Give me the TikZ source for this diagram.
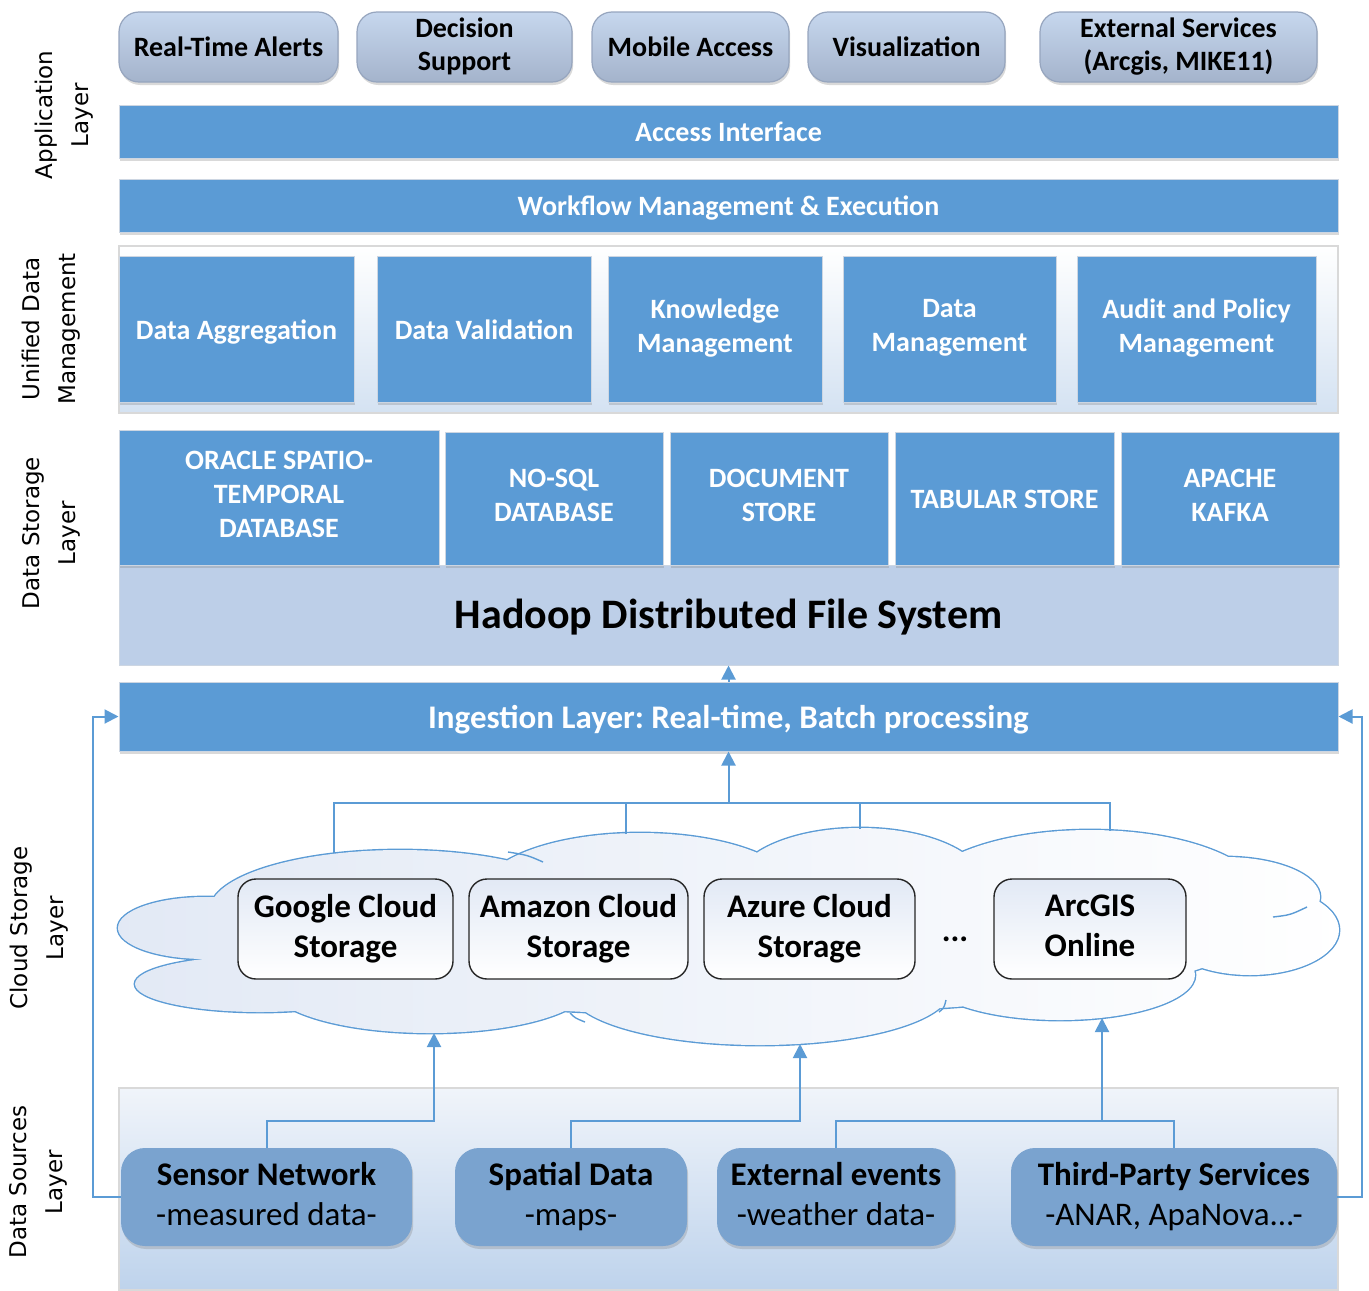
\documentclass[tikz,border=0pt]{standalone}
\usepackage{fontspec}
\setmainfont{Carlito}
\newfontfamily\sidefont{DejaVu Sans}
\usetikzlibrary{arrows.meta,shadows,calc}
\frenchspacing
\definecolor{bluebox}{RGB}{91,155,213}
\definecolor{bluebord}{RGB}{205,214,226}
\definecolor{hdfscol}{RGB}{189,207,232}
\definecolor{appA}{RGB}{198,215,238}
\definecolor{appB}{RGB}{164,179,203}
\definecolor{appbord}{RGB}{150,165,190}
\definecolor{srcfill}{RGB}{122,163,207}
\definecolor{conncol}{RGB}{91,155,213}
\definecolor{contTop}{RGB}{240,244,250}
\definecolor{contBot}{RGB}{190,211,236}
\definecolor{cloudL}{RGB}{226,233,245}
\definecolor{udmBot}{RGB}{212,226,242}
\newcommand\mkbox[7]{\node[#2, minimum width={(#5-#3)*0.5pt}, minimum height={(#6-#4)*0.5pt}] (#1) at ({(#3+#5)/2},{(#4+#6)/2}) {#7};}
\newcommand\mystrut[1]{\rule[-#1\baselineskip]{0pt}{\baselineskip}}
\tikzset{
  shad/.style={drop shadow={opacity=0.3, shadow xshift=0.6pt, shadow yshift=-1.5pt}},
  strutted/.style={execute at begin node=\mystrut{#1}, execute at end node=\mystrut{#1}},
  strutted/.default=0.2,
  appbox/.style={rounded corners=10pt, draw=appbord, line width=0.6pt, top color=appA, bottom color=appB, shad, font=\fontsize{14}{16.5}\selectfont\bfseries, align=center, inner sep=0pt, strutted},
  bar/.style={fill=bluebox, draw=bluebord, line width=0.5pt, text=white, shad, font=\fontsize{14}{17}\selectfont\bfseries, align=center, inner sep=0pt, strutted},
  ingbar/.style={bar, font=\fontsize{16.5}{20}\selectfont\bfseries},
  hdfsbox/.style={fill=hdfscol, draw=bluebord, line width=0.5pt, font=\fontsize{21}{25}\selectfont\bfseries, inner sep=0pt, strutted=0.24},
  cont/.style={draw=black!15, line width=0.6pt, inner sep=0pt},
  cbox/.style={rounded corners=9pt, draw=black!85, line width=0.7pt, top color=cloudL, bottom color=white, font=\fontsize{16.5}{20}\selectfont\bfseries, align=center, inner sep=0pt, strutted=0.15},
  srcbox/.style={rounded corners=12pt, fill=srcfill, shad, font=\fontsize{16.5}{20}\selectfont, align=center, inner sep=0pt, strutted=0.15},
  sidelab/.style={font=\sidefont\fontsize{11.5}{18}\selectfont, align=center, rotate=90},
  conn/.style={draw=conncol, line width=1pt},
  arr/.style={conn, -{Triangle[length=7pt,width=7pt]}},
  cloudline/.style={draw=conncol, line width=1.4pt}
}
\begin{document}
\begin{tikzpicture}[x=0.5pt,y=-0.5pt]
\useasboundingbox (0,0) rectangle (1369,1290);

% side labels
\node[sidelab] (labA) at (64,115) {Application\\Layer};
\node[sidelab] (labU) at (51,329) {Unified Data\\Management};
\node[sidelab] (labS) at (51,533) {Data Storage\\Layer};
\node[sidelab] (labC) at (39,928) {Cloud Storage\\Layer};
\node[sidelab] (labD) at (38,1182) {Data Sources\\Layer};

% application layer
\mkbox{a1}{appbox}{119}{12}{338}{82}{Real-Time Alerts}
\mkbox{a2}{appbox}{357}{12}{572}{82}{Decision\\Support}
\mkbox{a3}{appbox}{592}{12}{789}{82}{Mobile Access}
\mkbox{a4}{appbox}{808}{12}{1005}{82}{Visualization}
\mkbox{a5}{appbox}{1040}{12}{1317}{82}{External Services\\(Arcgis, MIKE11)}

\mkbox{acc}{bar}{119}{105}{1338}{158}{Access Interface}
\mkbox{wf}{bar}{119}{179}{1338}{232}{Workflow Management \& Execution}

% unified data management
\mkbox{udm}{cont, top color=white, bottom color=udmBot}{119}{246}{1338}{413}{}
\mkbox{u1}{bar}{119}{256}{354}{402}{Data Aggregation}
\mkbox{u2}{bar}{377}{256}{591}{402}{Data Validation}
\mkbox{u3}{bar}{608}{256}{822}{402}{Knowledge\\Management}
\mkbox{u4}{bar}{843}{256}{1056}{402}{Data\\Management}
\mkbox{u5}{bar}{1077}{256}{1316}{402}{Audit and Policy\\Management}

% data storage
\mkbox{hdfs}{hdfsbox}{119}{565}{1338}{665}{Hadoop Distributed File System}
\mkbox{s1}{bar}{119}{430}{439}{565}{ORACLE SPATIO-\\TEMPORAL\\DATABASE}
\mkbox{s2}{bar}{445}{432}{663}{565}{NO-SQL\\DATABASE}
\mkbox{s3}{bar}{670}{432}{888}{565}{DOCUMENT\\STORE}
\mkbox{s4}{bar}{895}{432}{1114}{565}{TABULAR STORE}
\mkbox{s5}{bar}{1121}{432}{1339}{565}{APACHE\\KAFKA}

% ingestion
\mkbox{ing}{ingbar}{119}{682}{1338}{751}{Ingestion Layer: Real-time, Batch processing}

% data sources container
\mkbox{dsc}{cont, top color=contTop, bottom color=contBot}{119}{1088}{1338}{1290}{}

% cloud
\draw[cloudline] foreach \cx/\cy/\rx/\ry in {205/928/43.5/15.5, 260/984/62.5/14, 400/910/95/30, 640/895/80/31, 860/885/62.5/28.5, 1090/900/87.5/35, 1225/897/47.5/20, 1250/930/44.5/22.5, 1060/975/67.5/22.5, 760/990/95/27.5, 430/985/80/24, 728/935/260/40} {(\cx,\cy) ellipse [x radius=\rx pt, y radius=\ry pt]};
\begin{scope}
\clip foreach \cx/\cy/\rx/\ry in {205/928/43.5/15.5, 260/984/62.5/14, 400/910/95/30, 640/895/80/31, 860/885/62.5/28.5, 1090/900/87.5/35, 1225/897/47.5/20, 1250/930/44.5/22.5, 1060/975/67.5/22.5, 760/990/95/27.5, 430/985/80/24, 728/935/260/40} {(\cx,\cy) ellipse [x radius=\rx pt, y radius=\ry pt]};
\shade[left color=cloudL, right color=white] (100,810) rectangle (1350,1060);
\end{scope}
% interior cloud folds
\draw[conncol, line width=0.7pt] (508,852) .. controls (527,855) .. (543,862);
\draw[conncol, line width=0.7pt] (1273,917) .. controls (1290,915) .. (1307,907);
\draw[conncol, line width=0.7pt] (946,1000) .. controls (944,1008) .. (939,1012);
\draw[conncol, line width=0.7pt] (570,1013) .. controls (575,1018) .. (585,1022);

\mkbox{c1}{cbox}{238}{879}{453}{979}{Google Cloud\\Storage}
\mkbox{c2}{cbox}{469}{879}{688}{979}{Amazon Cloud\\Storage}
\mkbox{c3}{cbox}{704}{879}{915}{979}{Azure Cloud\\Storage}
\node[font=\fontsize{16.5}{20}\selectfont\bfseries, anchor=base] (dots) at (955,941) {...};
\mkbox{c4}{cbox}{994}{879}{1186}{979}{ArcGIS\\Online}

% data sources
\mkbox{sn}{srcbox}{121}{1148}{412}{1246}{{\bfseries Sensor Network}\\-measured data-}
\mkbox{sp}{srcbox}{455}{1148}{687}{1246}{{\bfseries Spatial Data}\\-maps-}
\mkbox{ee}{srcbox}{717}{1148}{955}{1246}{{\bfseries External events}\\-weather data-}
\mkbox{tp}{srcbox}{1011}{1148}{1337}{1246}{{\bfseries Third-Party Services}\\-ANAR, ApaNova...-}

% connectors
\draw[arr] (ing.north) -- (hdfs.south);
\coordinate (bus) at (728,803);
\coordinate (ct1) at (334,853);
\coordinate (ct2) at (626,834);
\coordinate (ct3) at (860,829);
\coordinate (ct4) at (1110,831);
\draw[conn] (ct1) -- (ct1 |- bus) -- (ct4 |- bus) -- (ct4);
\draw[conn] (ct2) -- (ct2 |- bus);
\draw[conn] (ct3) -- (ct3 |- bus);
\draw[arr] (ing.south |- bus) -- (ing.south);

\coordinate (cb1) at (434,1033);
\coordinate (cb2) at (800,1044);
\coordinate (cb3) at (1102,1018);
\coordinate (jy) at (0,1121);
\draw[arr] (sn.north) -- (sn.north |- jy) -| (cb1);
\draw[arr] (sp.north) -- (sp.north |- jy) -| (cb2);
\draw[conn] (ee.north) -- (ee.north |- jy) -- (tp.north |- jy) -- (tp.north);
\draw[arr] (cb3 |- jy) -- (cb3);

\draw[arr] (sn.west) -- ++(-28,0) |- (ing.west);
\draw[arr] (tp.east) -- ++(25,0) |- (ing.east);
\end{tikzpicture}
\end{document}
